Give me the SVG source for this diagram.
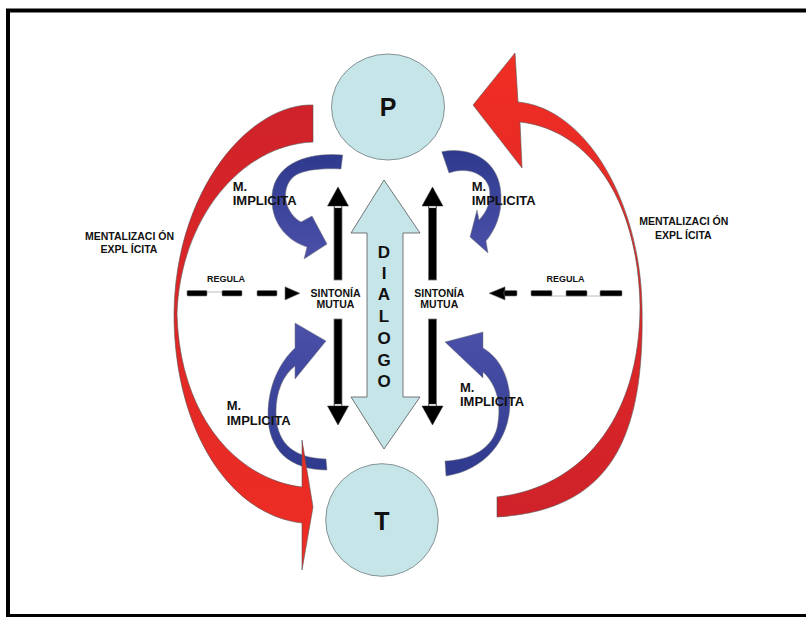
<svg xmlns="http://www.w3.org/2000/svg" width="806" height="617" viewBox="0 0 806 617">
<defs>
<linearGradient id="redL" x1="0" y1="0" x2="0" y2="1"><stop offset="0" stop-color="#CF222A"/><stop offset="1" stop-color="#F02E24"/></linearGradient>
<linearGradient id="redR" x1="0" y1="0" x2="0" y2="1"><stop offset="0" stop-color="#F02E24"/><stop offset="1" stop-color="#CF222A"/></linearGradient>
<linearGradient id="blueDown" x1="0" y1="0" x2="0" y2="1"><stop offset="0" stop-color="#2E3A8E"/><stop offset="1" stop-color="#4B50A8"/></linearGradient>
<linearGradient id="blueUp" x1="0" y1="0" x2="0" y2="1"><stop offset="0" stop-color="#4B50A8"/><stop offset="1" stop-color="#2E3A8E"/></linearGradient>
<style>
.node{fill:#C5E5E9;stroke:#707C7E;stroke-width:0.8}
.red{stroke:#555;stroke-width:0.6;stroke-linejoin:round}
.blue{stroke:#777;stroke-width:0.5;stroke-linejoin:round}
.shaft{fill:#000;stroke:#777;stroke-width:0.8}
.head{fill:#000;stroke:#333;stroke-width:0.5}
.hl{fill:#fff;stroke:#444;stroke-width:0.4}
.dash{fill:#000;stroke:#777;stroke-width:0.6}
.thin{stroke:#BBB;stroke-width:1;fill:none}
.t{font-family:"Liberation Sans",Arial,sans-serif;font-weight:bold;fill:#111}
.big{font-size:25px;text-anchor:middle}
.dl{font-size:17px;text-anchor:middle}
.mi{font-size:13px}
.me{font-size:10.5px;text-anchor:middle}
.si{font-size:10.5px;text-anchor:middle}
.rg{font-size:9px;text-anchor:middle}
</style>
</defs>
<rect x="0" y="0" width="806" height="617" fill="#fff"/>
<rect x="8" y="10.5" width="860" height="605.5" fill="none" stroke="#000" stroke-width="4"/>

<g id="node-P">
<ellipse class="node" cx="388" cy="107" rx="56.5" ry="53"/>
<text class="t big" x="388" y="116">P</text>
</g>
<g id="node-T">
<circle class="node" cx="382" cy="520" r="56.3"/>
<text class="t big" x="382" y="529.5">T</text>
</g>
<g id="node-dialogo">
<polygon class="node" style="stroke:#555" points="384,180 420,233 403,233 403,397 420,397 384,449 351,397 367,397 367,233 351,233"/>
<text class="t dl" x="384"><tspan x="384" y="258">D</tspan><tspan x="384" y="279">I</tspan><tspan x="384" y="300">A</tspan><tspan x="384" y="322">L</tspan><tspan x="384" y="344">O</tspan><tspan x="384" y="366">G</tspan><tspan x="384" y="387">O</tspan></text>
</g>

<g id="connectors">
<g id="blue-top-left">
<path class="blue" fill="url(#blueDown)" d="M342.7,155 C310,152 275,162 272,195 C270,225 290,242 307,247 L304,259 L327,244 L312,216 L301,222 C283,212 280,185 296,175 C305,170 320,168 341,169 Z"/>
</g>
<g id="blue-top-right">
<path class="blue" fill="url(#blueDown)" d="M441.7,151.7 C470,146 500,160 501,195 C502,215 495,230 486,241 L488,253 L470,237 L477,210 L479,220 C487,212 492,200 489,187 C484,172 465,167 449,173 Z"/>
</g>
<g id="blue-bottom-left">
<path class="blue" fill="url(#blueUp)" d="M326,459 C290,458 276,440 276,412 C276,392 283,375 295,366 L295,379 L326,341 L295,323 L295,348 C280,362 268,385 268,415 C268,450 290,470 327,470 Z"/>
</g>
<g id="blue-bottom-right">
<path class="blue" fill="url(#blueUp)" d="M445,461 C472,460 492,448 497,428 C502,405 497,385 483,372 L483,378 L445,342 L483,332 L483,348 C500,358 510,378 510,402 C510,440 485,470 446,476 Z"/>
</g>
<g id="red-left">
<path class="red" fill="url(#redL)" d="M313,105 C250,103 175,190 174,314 C174,430 230,515 302,523 L302,570 L313,507 L302,440 L302,487 C240,480 180,420 177,314 C180,220 240,145 313,142 Z"/>
</g>
<g id="red-right">
<path class="red" fill="url(#redR)" d="M518,102 C585,108 640,200 642,306 C645,440 610,510 497,517 L497,497 C580,488 640,420 640,306 C638,200 590,130 520,122 L522,168 L473,105 L515,53 Z"/>
</g>

<g id="sync-left-up">
<rect class="shaft" x="334" y="206" width="8" height="74"/>
<rect class="hl" x="334.5" y="205" width="7" height="3"/>
<polygon class="head" points="338,187 348.5,206 327.5,206"/>
</g>
<g id="sync-left-down">
<rect class="shaft" x="334" y="319" width="8" height="87"/>
<rect class="hl" x="334.5" y="404" width="7" height="3"/>
<polygon class="head" points="338,425 348.5,406 327.5,406"/>
</g>
<g id="sync-right-up">
<rect class="shaft" x="428.5" y="206" width="8" height="74"/>
<rect class="hl" x="429" y="205" width="7" height="3"/>
<polygon class="head" points="432.5,187 443,206 422,206"/>
</g>
<g id="sync-right-down">
<rect class="shaft" x="428.5" y="319" width="8" height="87"/>
<rect class="hl" x="429" y="404" width="7" height="3"/>
<polygon class="head" points="432.5,425 443,406 422,406"/>
</g>

<g id="regula-left">
<line class="thin" x1="205" y1="292" x2="224" y2="292"/>
<rect class="dash" x="187" y="290.5" width="20" height="5.5" rx="1"/>
<rect class="dash" x="222" y="290.5" width="20" height="5.5" rx="1"/>
<rect class="dash" x="257" y="290.5" width="20" height="5.5" rx="1"/>
<polygon class="dash" points="285,286.7 300,293.3 285,300"/>
</g>
<g id="regula-right">
<line class="thin" x1="550" y1="296" x2="602" y2="296"/>
<polygon class="dash" points="489,293.3 505,286.7 505,300"/>
<rect class="dash" x="504" y="290.5" width="13" height="5.5" rx="1"/>
<rect class="dash" x="531" y="290.5" width="21" height="5.5" rx="1"/>
<rect class="dash" x="566" y="290.5" width="21" height="5.5" rx="1"/>
<rect class="dash" x="600" y="290.5" width="22" height="5.5" rx="1"/>
</g>
</g>

<g id="labels">
<text class="t mi" x="232.7" y="191">M.</text>
<text class="t mi" x="232.7" y="205">IMPLICITA</text>
<text class="t mi" x="471.7" y="191">M.</text>
<text class="t mi" x="471.7" y="205">IMPLICITA</text>
<text class="t mi" x="226.7" y="410.3">M.</text>
<text class="t mi" x="226.7" y="425.3">IMPLICITA</text>
<text class="t mi" x="460" y="391.5">M.</text>
<text class="t mi" x="460" y="406">IMPLICITA</text>
<text class="t me" x="129.5" y="239.5">MENTALIZACI ÓN</text>
<text class="t me" x="129" y="252.8">EXPL ÍCITA</text>
<text class="t me" x="683.8" y="225.2">MENTALIZACI ÓN</text>
<text class="t me" x="683.3" y="238.5">EXPL ÍCITA</text>
<text class="t si" x="335.5" y="296.5">SINTONÍA</text>
<text class="t si" x="335.5" y="307.5">MUTUA</text>
<text class="t si" x="439.3" y="296.5">SINTONÍA</text>
<text class="t si" x="439.3" y="307.5">MUTUA</text>
<text class="t rg" x="226" y="282.3">REGULA</text>
<text class="t rg" x="565.5" y="282.3">REGULA</text>
</g>
</svg>
